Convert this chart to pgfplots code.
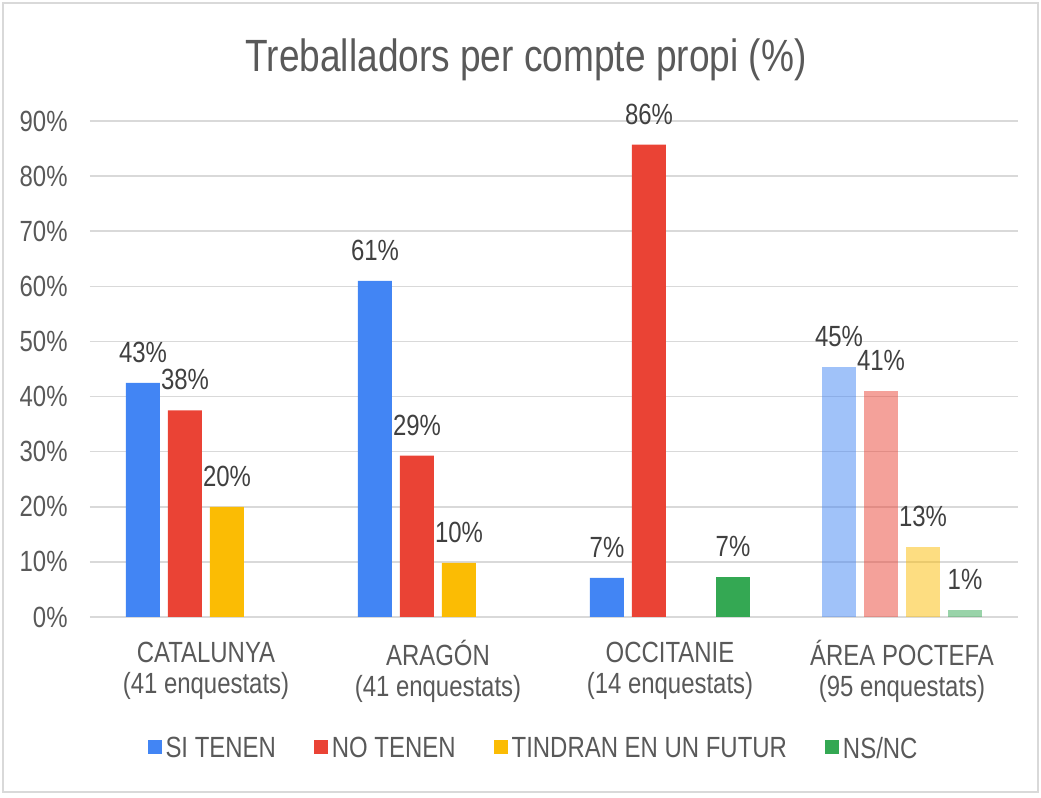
\documentclass[border=0pt]{standalone}
\usepackage{fontspec}
\setmainfont{Liberation Sans}[FakeStretch=0.82]
\usepackage{pgfplots}
\pgfplotsset{compat=1.18}
\definecolor{cblue}{HTML}{4285F4}
\definecolor{cred}{HTML}{EA4335}
\definecolor{cyellow}{HTML}{FBBC04}
\definecolor{cgreen}{HTML}{34A853}
\definecolor{gridc}{HTML}{D9D9D9}
\definecolor{txt}{HTML}{595959}
\definecolor{lbl}{HTML}{404040}
\begin{document}
\begin{tikzpicture}
\useasboundingbox (-45pt,-90.5pt) rectangle (475.5pt,308.5pt);
\draw[gridc, line width=1pt] (-43.25pt,-87.5pt) rectangle (474pt,306.75pt);
\node[anchor=base, font=\fontsize{22.6}{26}\selectfont, text=txt, inner sep=0pt] at (218pt,272.5pt) {Treballadors per compte propi (\%)};
\begin{axis}[
  at={(0pt,0pt)}, anchor=south west,
  scale only axis, width=464pt, height=248pt,
  xmin=-0.5, xmax=3.5, ymin=0, ymax=90,
  ybar, bar width=17pt,
  ytick={0,10,20,30,40,50,60,70,80,90},
  yticklabels={0\%,10\%,20\%,30\%,40\%,50\%,60\%,70\%,80\%,90\%},
  xtick={0,1,2,3},
  xticklabels={{\rule{0pt}{11pt}CATALUNYA\\(41 enquestats)},{\rule{0pt}{11pt}ARAGÓN\\(41 enquestats)},{\rule{0pt}{11pt}OCCITANIE\\(14 enquestats)},{\rule{0pt}{11pt}ÁREA POCTEFA\\(95 enquestats)}},
  tick label style={font=\fontsize{14.6}{15.5}\selectfont, text=txt},
  xticklabel style={align=center, anchor=north, inner sep=0pt, yshift=-11.5pt},
  yticklabel style={anchor=east, inner sep=0pt, xshift=-11pt},
  axis line style={draw=none},
  major tick length=0pt,
  ymajorgrids, grid style={gridc, line width=0.8pt},
  clip=false,
  point meta=explicit symbolic,
  nodes near coords={\pgfplotspointmeta\%},
  every node near coord/.append style={font=\fontsize{14.6}{16}\selectfont, text=lbl, anchor=south, inner sep=0pt, text depth=0pt, yshift=10pt, text opacity=1},
  legend columns=4,
  legend cell align=left,
  legend image code/.code={\fill[#1, draw=none] (0pt,-2.5pt) rectangle (7pt,4.5pt);},
  legend style={at={(axis description cs:0.479,-0.266)}, anchor=center, draw=none, fill=none,
    font=\fontsize{14.6}{16}\selectfont, text=txt,
    /tikz/every even column/.append style={column sep=17pt}},
]
\addplot[fill=cblue, draw=none, bar shift=-31.5pt] coordinates {(0,42.5)[43] (1,61)[61] (2,7.1)[7]};
\addlegendentry{SI TENEN}
\addplot[fill=cred, draw=none, bar shift=-10.5pt] coordinates {(0,37.5)[38] (1,29.3)[29] (2,85.7)[86]};
\addlegendentry{NO TENEN}
\addplot[fill=cyellow, draw=none, bar shift=10.5pt] coordinates {(0,20)[20] (1,9.8)[10]};
\addlegendentry{TINDRAN EN UN FUTUR}
\addplot[fill=cgreen, draw=none, bar shift=31.5pt] coordinates {(2,7.3)[7]};
\addlegendentry{NS/NC}
\addplot[fill=cblue, fill opacity=0.5, draw=none, bar shift=-31.5pt, forget plot] coordinates {(3,45.3)[45]};
\addplot[fill=cred, fill opacity=0.5, draw=none, bar shift=-10.5pt, forget plot] coordinates {(3,41.1)[41]};
\addplot[fill=cyellow, fill opacity=0.5, draw=none, bar shift=10.5pt, forget plot] coordinates {(3,12.7)[13]};
\addplot[fill=cgreen, fill opacity=0.5, draw=none, bar shift=31.5pt, forget plot] coordinates {(3,1.2)[1]};
\end{axis}
\end{tikzpicture}
\end{document}
